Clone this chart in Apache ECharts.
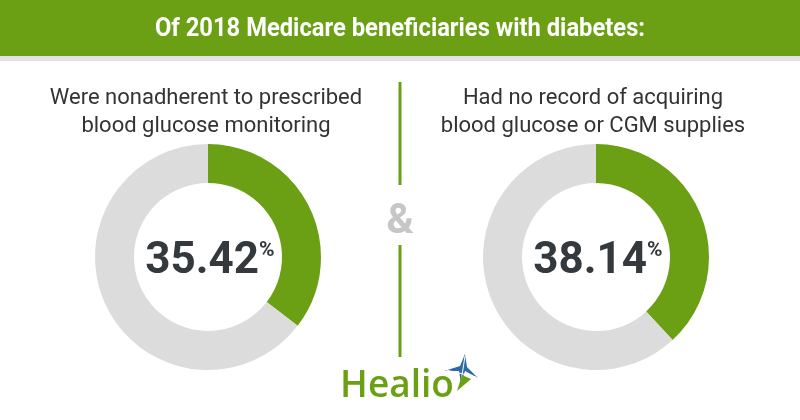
<!DOCTYPE html>
<html><head><meta charset="utf-8">
<script src="https://cdn.jsdelivr.net/npm/echarts@6/dist/echarts.min.js"></script>
<style>html,body{margin:0;padding:0;background:#fff}#c{width:800px;height:420px}</style>
</head><body><div id="c"></div>
<script>
const headline = 'Of 2018 Medicare beneficiaries with diabetes:';
const captions = [
  ['Were nonadherent to prescribed', 'blood glucose monitoring'],
  ['Had no record of acquiring', 'blood glucose or CGM supplies']
];
const shares = [35.42, 38.14];
const sliceNames = ['Yes', 'Other'];

const GREEN = '#6ba014';
const GRAY = '#dcdcdc';
const DARK = '#33393c';
const centersX = [208, 596];

const chart = echarts.init(document.getElementById('c'), null, {renderer: 'canvas'});

const series = shares.map((v, i) => ({
  type: 'pie',
  center: [centersX[i], 257],
  radius: [74, 113],
  startAngle: 90,
  clockwise: true,
  silent: true,
  animation: false,
  labelLine: {show: false},
  data: [
    {name: sliceNames[0], value: v, itemStyle: {color: GREEN},
     label: {show: true, position: 'center', padding: [9, 0, 0, 4],
       formatter: () => '{n|' + v.toFixed(2) + '}{p|%}',
       rich: {
         n: {fontFamily: 'Roboto', fontWeight: 'bold', fontSize: 44, color: DARK, lineHeight: 48},
         p: {fontFamily: 'Roboto', fontWeight: 'bold', fontSize: 21, color: DARK, verticalAlign: 'top', lineHeight: 22, padding: [3, 0, 0, 0]}
       }}},
    {name: sliceNames[1], value: +(100 - v).toFixed(2), itemStyle: {color: GRAY}, label: {show: false}}
  ]
}));

const graphics = [
  {type: 'rect', shape: {x: 0, y: 0, width: 800, height: 56}, style: {fill: GREEN}, z: 0},
  {type: 'rect', shape: {x: 0, y: 56, width: 800, height: 5}, style: {fill: '#e4e2e6'}, z: 0},
  {type: 'text', x: 400, y: 30, scaleX: 0.95, originX: 0,
   style: {text: headline, fill: '#fff', font: 'bold 25px Roboto', align: 'center', verticalAlign: 'middle'}},
  {type: 'rect', shape: {x: 398.5, y: 82, width: 3, height: 103}, style: {fill: GREEN}},
  {type: 'rect', shape: {x: 398.5, y: 245, width: 3, height: 112}, style: {fill: GREEN}},
  {type: 'text', x: 400, y: 222, style: {text: '&', fill: '#c6c6c6', font: 'bold 42px Roboto', align: 'center', verticalAlign: 'middle'}},
  {type: 'text', x: 397, y: 386, style: {text: 'Healio', fill: GREEN, font: '600 37px "Open Sans"', align: 'center', verticalAlign: 'middle'}},
  // star logo
  {type: 'polygon', shape: {points: [[444,371],[460,366],[465,354],[467,367],[478,378],[465,371],[461,384],[459,371]]}, style: {fill: '#2c6aa6'}},
  {type: 'polyline', shape: {points: [[446,370],[476,377]]}, style: {stroke: '#fff', lineWidth: 1}},
  {type: 'polyline', shape: {points: [[465,356],[461,382]]}, style: {stroke: '#fff', lineWidth: 1}},
  {type: 'polygon', shape: {points: [[457,391],[462,375],[471,379]]}, style: {fill: GREEN}}
];
captions.forEach((lines, i) => {
  lines.forEach((t, j) => {
    graphics.push({type: 'text', x: centersX[i] - 2 + (i ? -1 : 0), y: 98 + j * 28,
      style: {text: t, fill: '#333', font: '22px Roboto', align: 'center', verticalAlign: 'middle'}});
  });
});

chart.setOption({
  animation: false,
  series: series,
  graphic: graphics
});
</script>
</body></html>
